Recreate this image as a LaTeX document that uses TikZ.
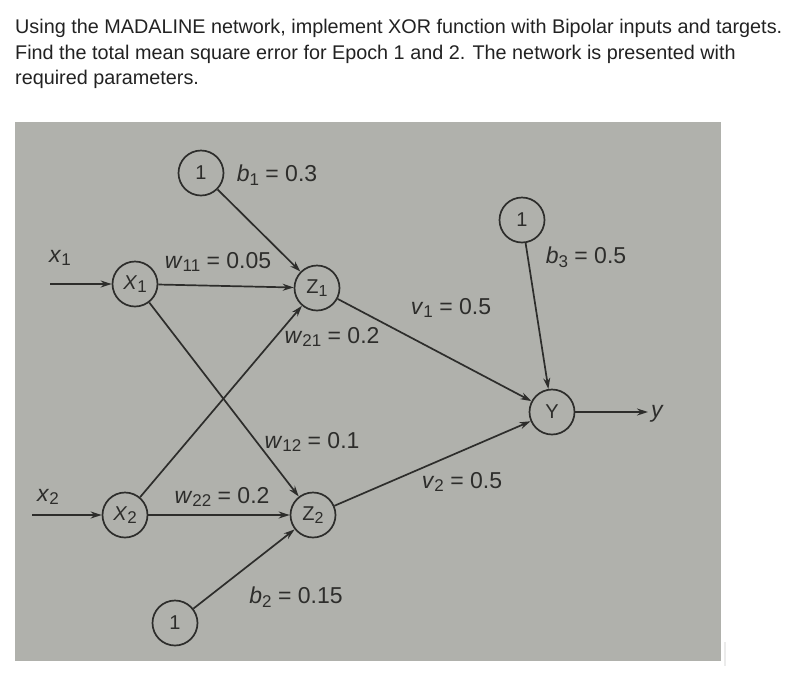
\documentclass[tikz,border=0pt]{standalone}
\usepackage{fontspec}
\setmainfont{Liberation Sans}
\usetikzlibrary{arrows.meta}
\definecolor{photo}{RGB}{176,177,172}
\definecolor{ink}{RGB}{45,45,43}
\definecolor{prose}{RGB}{34,34,34}
\newcommand{\varsub}[2]{\textit{#1}\raisebox{-0.3ex}{\fontsize{17}{17}\selectfont #2}}
\newcommand{\upsub}[2]{#1\raisebox{-0.3ex}{\fontsize{16}{16}\selectfont #2}}

\begin{document}
\begin{tikzpicture}[x=1pt, y=-1pt,
		neuron/.style={circle, draw=ink, line width=1.7pt, minimum size=45pt, inner sep=0pt, text=ink, font=\fontsize{20}{20}\selectfont},
		wlabel/.style={text=ink, inner sep=1pt, font=\fontsize{23}{23}\selectfont},
		prosetext/.style={anchor=base west, inner sep=0pt, text=prose, font=\fontsize{19.8}{19.8}\selectfont},
		conn/.style={draw=ink, line width=1.7pt, -{Stealth[length=11pt, width=7pt]}}]
		\useasboundingbox (0,0) rectangle (802,681);
		
		\node[prosetext] (q1) at (15,33) {Using the MADALINE network, implement XOR function with Bipolar inputs and targets.};
		\node[prosetext] (q2) at (15,59) {Find the total mean square error for Epoch 1 and 2. The network is presented with};
		\node[prosetext] (q3) at (15,84) {required parameters.};
		
		\fill[photo] (15,122) rectangle (721,661);
		\draw[black!8, line width=1.2pt] (725,642) -- (725,666);
		
		\node[neuron] (b1) at (201,173) {1};
		\node[neuron] (X1) at (135,284) {\varsub{X}{1}};
		\node[neuron] (Z1) at (317,288) {\upsub{Z}{1}};
		\node[neuron] (X2) at (125,515) {\varsub{X}{2}};
		\node[neuron] (Z2) at (313,515) {\upsub{Z}{2}};
		\node[neuron] (b2) at (175,623) {1};
		\node[neuron] (b3) at (522,220) {1};
		\node[neuron] (Y) at (552,412) {Y};
		
		\coordinate (in1) at (50,284);
		\coordinate (in2) at (32,515);
		\coordinate (out) at (648,412);
		
		\node[wlabel] (lx1) at (60,258) {\varsub{x}{1}};
		\node[wlabel] (lx2) at (48,497) {\varsub{x}{2}};
		\node[wlabel, anchor=west] (ly) at (650,414) {\textit{y}};
		
		\draw[conn] (in1) -- (X1);
		\draw[conn] (in2) -- (X2);
		\draw[conn] (X1) -- (Z1);
		\draw[conn] (X1) -- (Z2);
		\draw[conn] (X2) -- (Z1);
		\draw[conn] (X2) -- (Z2);
		\draw[conn] (b1) -- (Z1);
		\draw[conn] (b2) -- (Z2);
		\draw[conn] (Z1) -- (Y);
		\draw[conn] (Z2) -- (Y);
		\draw[conn] (b3) -- (Y);
		\draw[conn] (Y) -- (out);
		
		\node[wlabel] (lb1) at (277,175) {\varsub{b}{1} = 0.3};
		\node[wlabel] (lw11) at (218,262) {\varsub{w}{11} = 0.05};
		\node[wlabel] (lw21) at (332,337) {\varsub{w}{21} = 0.2};
		\node[wlabel] (lv1) at (451,308) {\varsub{v}{1} = 0.5};
		\node[wlabel] (lb3) at (586,257) {\varsub{b}{3} = 0.5};
		\node[wlabel] (lw12) at (312,442) {\varsub{w}{12} = 0.1};
		\node[wlabel] (lw22) at (222,497) {\varsub{w}{22} = 0.2};
		\node[wlabel] (lv2) at (462,482) {\varsub{v}{2} = 0.5};
		\node[wlabel] (lb2) at (296,597) {\varsub{b}{2} = 0.15};
	\end{tikzpicture}
\end{document}
